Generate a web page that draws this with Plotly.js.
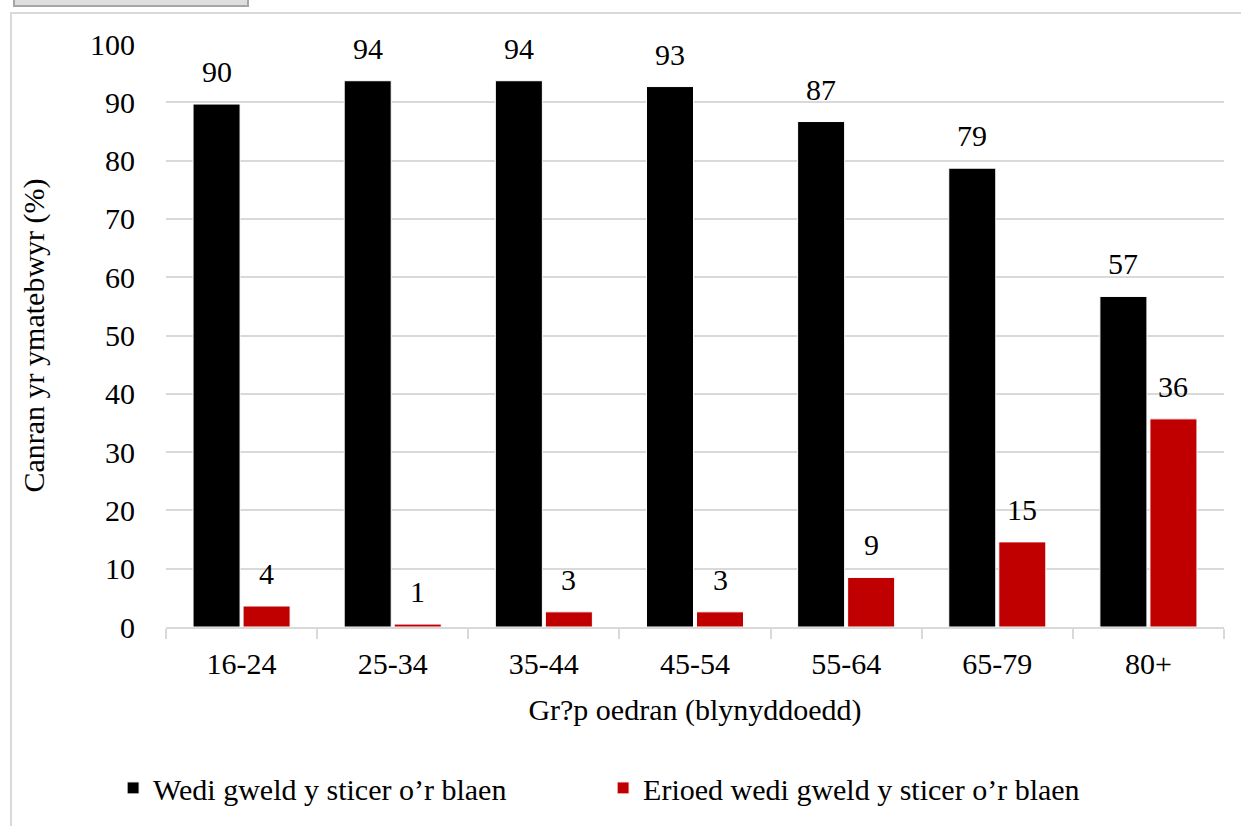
<!DOCTYPE html>
<html>
<head>
<meta charset="utf-8">
<script src="https://cdn.plot.ly/plotly-3.0.1.min.js"></script>
<style>
  html, body { margin: 0; padding: 0; background: #fff; }
  #wrap { position: relative; width: 1241px; height: 826px; overflow: hidden; }
  #chart { position: absolute; left: 0; top: 0; width: 1241px; height: 826px; }
  #frame { position: absolute; left: 10px; top: 12px; width: 1300px; height: 900px;
           border-left: 2px solid #d9d9d9; border-top: 2px solid #d9d9d9; pointer-events: none; }
  #btn { position: absolute; left: 13px; top: -3px; width: 232px; height: 6px;
         background: #dedede; border: 2px solid #a6a6a6; pointer-events: none; }
</style>
</head>
<body>
<div id="wrap">
  <div id="chart"></div>
  <div id="frame"></div>
  <div id="btn"></div>
</div>
<script>
const categories = ['16-24', '25-34', '35-44', '45-54', '55-64', '65-79', '80+'];
const seenValues = [89.7, 93.7, 93.7, 92.7, 86.7, 78.7, 56.7];
const neverValues = [3.6, 0.5, 2.6, 2.6, 8.5, 14.6, 35.7];
const seenName = 'Wedi gweld y sticer o\u2019r blaen';
const neverName = 'Erioed wedi gweld y sticer o\u2019r blaen';
const yTitle = 'Canran yr ymatebwyr (%)';
const xTitle = 'Gr?p oedran (blynyddoedd)';

const FONT = 'Liberation Serif, Times New Roman, serif';
const FS = 30;

const traces = [
  { type: 'bar', name: seenName, x: categories, y: seenValues,
    marker: { color: '#000000', line: { color: '#ffffff', width: 1 } }, hoverinfo: 'none' },
  { type: 'bar', name: neverName, x: categories, y: neverValues,
    marker: { color: '#c00000', line: { color: '#ffffff', width: 1 } }, hoverinfo: 'none' }
];

const annotations = [];
categories.forEach((c, i) => {
  annotations.push({ x: c, y: seenValues[i], xref: 'x', yref: 'y', text: String(Math.round(seenValues[i])),
    showarrow: false, xshift: -25, yshift: 14, yanchor: 'bottom', font: { family: FONT, size: FS, color: '#000' } });
  annotations.push({ x: c, y: neverValues[i], xref: 'x', yref: 'y', text: String(Math.round(neverValues[i])),
    showarrow: false, xshift: 25, yshift: 14, yanchor: 'bottom', font: { family: FONT, size: FS, color: '#000' } });
});

const layout = {
  width: 1241, height: 826,
  margin: { l: 166, r: 17, t: 44, b: 196 },
  paper_bgcolor: '#ffffff', plot_bgcolor: '#ffffff',
  font: { family: FONT, size: FS, color: '#000' },
  barmode: 'group', bargap: 0.338, bargroupgap: 0.06,
  showlegend: true,
  legend: { orientation: 'h', x: -0.05, xanchor: 'left', y: -0.276, yanchor: 'middle',
            entrywidth: 445, entrywidthmode: 'pixels', font: { family: FONT, size: FS, color: '#000' },
            itemwidth: 30, tracegroupgap: 0 },
  xaxis: {
    type: 'category', showgrid: false, zeroline: false,
    showline: true, linecolor: '#d9d9d9', linewidth: 2,
    ticks: 'outside', tickson: 'boundaries', ticklen: 10, tickcolor: '#d9d9d9', tickwidth: 2,
    ticklabelstandoff: 9,
    tickfont: { family: FONT, size: FS, color: '#000' },
    title: { text: xTitle, font: { family: FONT, size: FS, color: '#000' }, standoff: 20 }
  },
  yaxis: {
    range: [0, 100], dtick: 10, showgrid: true, gridcolor: '#d9d9d9', gridwidth: 2,
    zeroline: false, showline: false, ticks: '', ticklabelstandoff: 30,
    tickfont: { family: FONT, size: FS, color: '#000' },
    title: { text: yTitle, font: { family: FONT, size: FS, color: '#000' }, standoff: 36 }
  },
  annotations: annotations
};

Plotly.newPlot('chart', traces, layout, { displayModeBar: false, staticPlot: true });
</script>
</body>
</html>
